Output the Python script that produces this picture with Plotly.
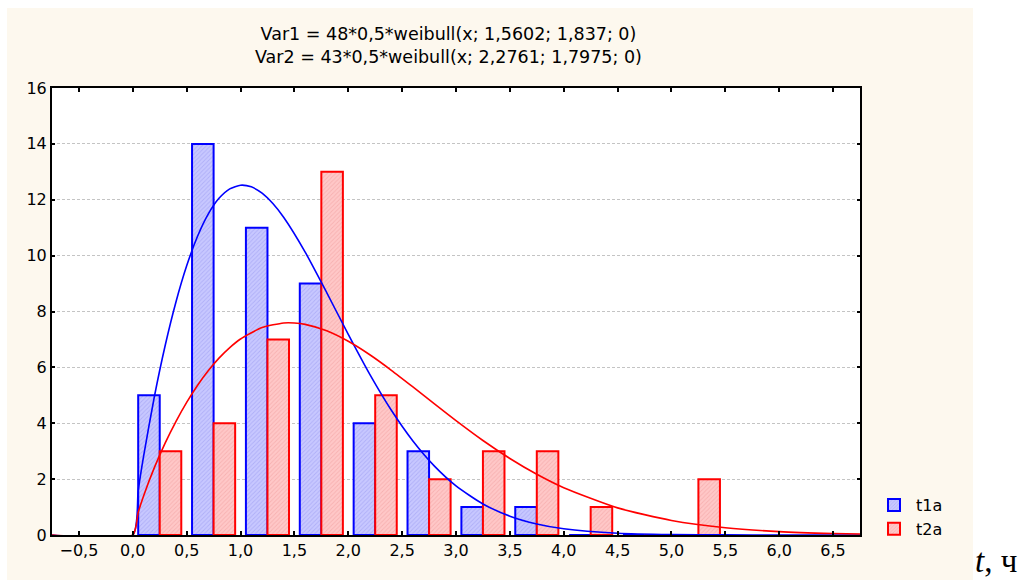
import plotly.graph_objects as go

# ---- data ----
bin_centers = [0.25, 0.75, 1.25, 1.75, 2.25, 2.75, 3.25, 3.75, 4.25, 4.75, 5.25]
t1a_counts = [5, 14, 11, 9, 4, 3, 1, 1, 0, 0, 0]
t2a_counts = [3, 4, 7, 13, 5, 2, 3, 3, 1, 0, 2]

var1_x = [-0.75, 0.0, 0.05, 0.1, 0.2, 0.3, 0.4, 0.5, 0.6, 0.7, 0.8, 0.9, 1.0, 1.1, 1.2, 1.3, 1.4,
          1.6, 1.8, 2.0, 2.2, 2.4, 2.6, 2.8, 3.0, 3.25, 3.5, 3.75, 4.0, 4.5, 5.0, 5.5, 6.0, 6.75]
var1_y = [0.0, 0.0, 1.584, 2.816, 4.948, 6.774, 8.332, 9.634, 10.684, 11.486, 12.051, 12.390, 12.521,
          12.461, 12.235, 11.863, 11.373, 10.126, 8.677, 7.180, 5.749, 4.463, 3.365, 2.466, 1.759,
          1.111, 0.675, 0.394, 0.221, 0.063, 0.015, 0.003, 0.0005, 0.0]

var2_x = [-0.75, 0.0, 0.05, 0.1, 0.2, 0.3, 0.4, 0.5, 0.6, 0.7, 0.8, 0.9, 1.0, 1.2, 1.4, 1.5, 1.6,
          1.8, 2.0, 2.2, 2.4, 2.6, 2.8, 3.0, 3.25, 3.5, 3.75, 4.0, 4.5, 5.0, 5.5, 6.0, 6.5, 6.75]
var2_y = [0.0, 0.0, 0.808, 1.399, 2.411, 3.286, 4.061, 4.748, 5.353, 5.879, 6.330, 6.708, 7.015,
          7.426, 7.591, 7.590, 7.539, 7.309, 6.933, 6.451, 5.896, 5.301, 4.693, 4.094, 3.383,
          2.740, 2.174, 1.693, 0.971, 0.520, 0.260, 0.122, 0.054, 0.035]

title_lines = ["Var1 = 48*0,5*weibull(x; 1,5602; 1,837; 0)",
               "Var2 = 43*0,5*weibull(x; 2,2761; 1,7975; 0)"]

FONT = "DejaVu Sans, Arial, sans-serif"
CREAM = "#FDF8EE"

fig = go.Figure()

fig.add_trace(go.Bar(
    x=bin_centers, y=t1a_counts, name="t1a",
    marker=dict(color="#C4C4FF", line=dict(color="#0000FF", width=2),
                pattern=dict(shape="/", fgcolor="#9696F0", bgcolor="#C8C8FF", size=3, solidity=0.3)),
))
fig.add_trace(go.Bar(
    x=bin_centers, y=t2a_counts, name="t2a",
    marker=dict(color="#FFC4C4", line=dict(color="#FF0000", width=2),
                pattern=dict(shape="/", fgcolor="#F09A9A", bgcolor="#FFC8C8", size=3, solidity=0.3)),
))
fig.add_trace(go.Scatter(x=var1_x, y=var1_y, mode="lines", line=dict(color="#0000FF", width=1.6, shape="spline", smoothing=0.6),
                         showlegend=False, hoverinfo="skip"))
fig.add_trace(go.Scatter(x=var2_x, y=var2_y, mode="lines", line=dict(color="#FF0000", width=1.6, shape="spline", smoothing=0.6),
                         showlegend=False, hoverinfo="skip"))

L, R, T, B = 52, 162, 88, 48
W, H = 1022, 583
pw, ph = W - L - R, H - T - B

def px_x(px):
    return (px - L) / pw

def px_y(py):
    return (H - B - py) / ph

fig.update_layout(
    width=W, height=H,
    margin=dict(l=L, r=R, t=T, b=B, pad=0),
    paper_bgcolor="white", plot_bgcolor="white",
    separators=", ",
    font=dict(family=FONT, size=16, color="black"),
    barmode="group", bargap=0.2, bargroupgap=0.0,
    showlegend=True,
    legend=dict(x=px_x(872), y=px_y(546), xanchor="left", yanchor="bottom",
                bgcolor="rgba(0,0,0,0)", font=dict(family=FONT, size=16),
                tracegroupgap=2, itemwidth=34),
    shapes=[
        dict(type="rect", xref="paper", yref="paper", x0=px_x(7), x1=px_x(973), y0=px_y(580), y1=px_y(8),
             fillcolor=CREAM, line=dict(width=0), layer="below"),
        dict(type="rect", xref="paper", yref="paper", x0=0, x1=1, y0=0, y1=1,
             fillcolor="white", line=dict(width=0), layer="below"),
    ],
    annotations=[
        dict(text=title_lines[0] + "<br>" + title_lines[1], xref="paper", yref="paper",
             x=px_x(448), y=px_y(22), xanchor="center", yanchor="top", showarrow=False,
             font=dict(family=FONT, size=17.5), align="center"),
        dict(text="<i>t</i>, ч", xref="paper", yref="paper", x=px_x(973), y=px_y(561),
             xanchor="left", yanchor="middle", showarrow=False,
             font=dict(family="Liberation Serif, Times New Roman, serif", size=33)),
    ],
)

fig.update_xaxes(range=[-0.75, 6.75], tick0=-0.5, dtick=0.5, tickformat=".1f",
                 showline=True, linecolor="black", linewidth=2, mirror="ticks",
                 ticks="inside", ticklen=4, tickwidth=1.5, tickcolor="black",
                 showgrid=False, zeroline=False, tickfont=dict(size=16))
fig.update_yaxes(range=[0, 16], tick0=0, dtick=2,
                 showline=True, linecolor="black", linewidth=2, mirror="ticks",
                 ticks="inside", ticklen=3, tickwidth=1.5, tickcolor="black",
                 showgrid=True, gridcolor="#C4C4C4", griddash="3px,2px", gridwidth=1,
                 zeroline=False, tickfont=dict(size=16))

fig.write_html("out.html")
